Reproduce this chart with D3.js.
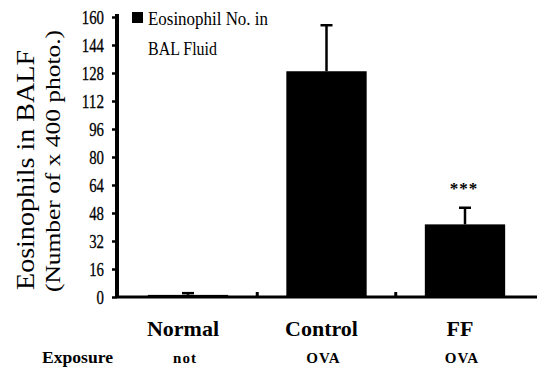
<!DOCTYPE html>
<html><head><meta charset="utf-8">
<script src="https://cdn.jsdelivr.net/npm/d3@7"></script>
<style>body{margin:0;background:#fff;} svg text{font-family:'Liberation Serif','Times New Roman',Times,'DejaVu Serif',serif !important;}</style>
</head><body><svg id="c" width="540" height="370"></svg>
<script>
const categories = ["Normal", "Control", "FF"];
const exposure = ["not", "OVA", "OVA"];
const values = [1.2, 129, 41.5];
const errors = [1, 26.3, 9.5];
const significance = ["", "", "***"];
const yTicks = [0, 16, 32, 48, 64, 80, 96, 112, 128, 144, 160];
const legendLabel = ["Eosinophil No. in", "BAL Fluid"];

const svg = d3.select("#c");
const x = d3.scaleBand().domain(categories).range([118.75, 534.25]).paddingInner(0.42).paddingOuter(0.21);
const y = d3.scaleLinear().domain([0, 160]).range([297, 17]);
const cx = c => x(c) + x.bandwidth() / 2;

// bars
svg.selectAll("rect.bar").data(values).join("rect").attr("class", "bar")
  .attr("x", (d, i) => x(categories[i])).attr("width", x.bandwidth())
  .attr("y", d => y(d)).attr("height", d => y(0) - y(d)).attr("fill", "#000");
// error bars
const eb = svg.selectAll("g.err").data(values).join("g").attr("class", "err");
eb.append("line")
  .attr("x1", (d, i) => cx(categories[i])).attr("x2", (d, i) => cx(categories[i]))
  .attr("y1", d => y(d)).attr("y2", (d, i) => y(d + errors[i]))
  .attr("stroke", "#000").attr("stroke-width", 2.5);
eb.append("line")
  .attr("x1", (d, i) => cx(categories[i]) - 6).attr("x2", (d, i) => cx(categories[i]) + 6)
  .attr("y1", (d, i) => y(d + errors[i])).attr("y2", (d, i) => y(d + errors[i]))
  .attr("stroke", "#000").attr("stroke-width", 2.5);
// significance
svg.selectAll("text.sig").data(significance).join("text").attr("class", "sig")
  .attr("x", (d, i) => cx(categories[i]) - 1)
  .attr("y", (d, i) => y(values[i] + errors[i]) - 14)
  .attr("text-anchor", "middle").attr("font-size", 17).attr("font-weight", "bold")
  .attr("letter-spacing", 1).text(d => d);

// y axis
const yAxis = d3.axisLeft(y).tickValues(yTicks).tickSize(5).tickPadding(8);
const gy = svg.append("g").attr("transform", "translate(117,0)").call(yAxis);
gy.select(".domain").attr("stroke-width", 4).attr("d", "M0,14V298");
gy.selectAll(".tick line").attr("stroke-width", 2.5);
gy.selectAll(".tick text").attr("font-size", 19).attr("dy", "0.34em")
  .attr("fill", "#000").attr("stroke", "#000").attr("stroke-width", 0.3)
  .attr("textLength", d => String(d).length * 7.4).attr("lengthAdjust", "spacingAndGlyphs");

// x axis with small boundary ticks
const xAxis = d3.axisBottom(x).tickSize(0).tickFormat("");
const gx = svg.append("g").attr("transform", "translate(0,297)").call(xAxis);
gx.select(".domain").attr("stroke-width", 3).attr("d", "M117,0H537");
gx.selectAll(".tick").remove();
const boundaries = categories.slice(1).map(c => x(c) - x.step() * x.paddingInner() / 2);
svg.selectAll("line.bnd").data(boundaries).join("line").attr("class", "bnd")
  .attr("x1", d => d).attr("x2", d => d).attr("y1", y(0)).attr("y2", y(0) - 5)
  .attr("stroke", "#000").attr("stroke-width", 3);

// category labels
svg.selectAll("text.cat").data(categories).join("text").attr("class", "cat")
  .attr("x", d => cx(d) - 5).attr("y", 336)
  .attr("text-anchor", "middle").attr("font-size", 22).attr("font-weight", "bold").text(d => d);
svg.selectAll("text.exp").data(exposure).join("text").attr("class", "exp")
  .attr("x", (d, i) => cx(categories[i]) - 3).attr("y", 363)
  .attr("text-anchor", "middle").attr("font-size", 15).attr("font-weight", "bold")
  .attr("letter-spacing", 1).text(d => d);
svg.append("text").attr("x", 42).attr("y", 363)
  .attr("font-size", 16).attr("font-weight", "bold").attr("textLength", 71)
  .attr("lengthAdjust", "spacingAndGlyphs").text("Exposure");

// y titles
svg.append("text").attr("transform", "translate(34,170) rotate(-90)")
  .attr("text-anchor", "middle").attr("font-size", 26)
  .attr("textLength", 240).attr("lengthAdjust", "spacingAndGlyphs").text("Eosinophils in BALF");
svg.append("text").attr("transform", "translate(60,161) rotate(-90)")
  .attr("text-anchor", "middle").attr("font-size", 20)
  .attr("textLength", 262).attr("lengthAdjust", "spacingAndGlyphs").text("(Number of x 400 photo.)");

// legend
svg.append("rect").attr("x", 132).attr("y", 12).attr("width", 11).attr("height", 11).attr("fill", "#000");
svg.selectAll("text.leg").data(legendLabel).join("text").attr("class", "leg")
  .attr("x", 148).attr("y", (d, i) => 25 + i * 30)
  .attr("font-size", 18).attr("textLength", (d, i) => i === 0 ? 120 : 69)
  .attr("lengthAdjust", "spacingAndGlyphs").text(d => d);
</script></body></html>
